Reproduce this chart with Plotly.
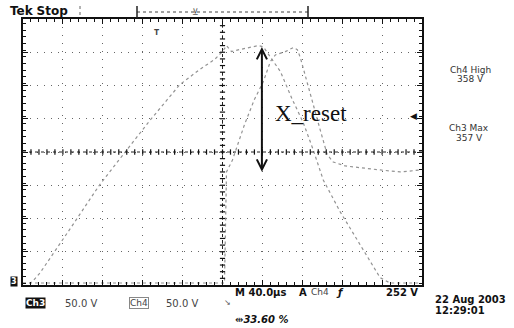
import plotly.graph_objects as go

# ---- data (time in microseconds, volts) ----
ch3_t = [0, 7, 10, 17, 47, 77, 104, 127, 157, 177, 192, 200, 204, 209, 217, 227, 236, 241,
         250, 258, 270, 281, 291, 301, 318, 335, 348, 358, 368, 399]
ch3_v = [0, 0, 3, 15, 81, 148, 200, 244, 298, 321, 336, 348, 357, 348, 351, 354, 357, 355,
         336, 318, 276, 241, 200, 155, 107, 65, 32, 8, 0, 0]
ch4_t = [0, 202, 204, 210, 222, 232, 241, 248, 253, 263, 271, 275, 278, 288, 298, 305, 311,
         323, 338, 358, 378, 399]
ch4_v = [0, 0, 167, 185, 238, 276, 303, 333, 343, 348, 354, 351, 339, 283, 230, 193, 182,
         176, 173, 170, 167, 170]
arrow_t = 239.5
arrow_v = [355, 165]
trig_level = 252
trig_pos = 134

W, H = 514, 328
L, R, T, B = 23, 422, 19, 285
X0, X1 = 0, 400
Y0, Y1 = -3, 397


def px(x):
    return (x - L) / (R - L)


def py(y):
    return (B - y) / (B - T)


fig = go.Figure()
trace_style = dict(color="#939393", width=1.2, dash="dot")
fig.add_trace(go.Scatter(x=ch3_t, y=ch3_v, mode="lines", line=trace_style, hoverinfo="skip"))
fig.add_trace(go.Scatter(x=ch4_t, y=ch4_v, mode="lines", line=trace_style, hoverinfo="skip"))

shapes = []
# center graticule lines
xc = (X0 + X1) / 2
yc = Y0 + 200
shapes.append(dict(type="line", x0=X0, x1=X1, y0=yc, y1=yc, xref="x", yref="y",
                   line=dict(color="#222", width=1, dash="dot")))
shapes.append(dict(type="line", x0=xc, x1=xc, y0=Y0, y1=Y1, xref="x", yref="y",
                   line=dict(color="#222", width=1, dash="dot")))
# tick marks on center lines
for i in range(1, 50):
    t = X0 + i * 8
    shapes.append(dict(type="line", x0=t, x1=t, y0=yc - 4, y1=yc + 4, xref="x", yref="y",
                       line=dict(color="#111", width=1.2)))
for i in range(1, 40):
    v = Y0 + i * 10
    shapes.append(dict(type="line", x0=xc - 2.6, x1=xc + 2.6, y0=v, y1=v, xref="x", yref="y",
                       line=dict(color="#111", width=1.2)))
# record-position bracket at top
ytop = py(12)
shapes.append(dict(type="line", xref="paper", yref="paper", x0=px(137), x1=px(308), y0=ytop, y1=ytop,
                   line=dict(color="#444", width=1, dash="dot")))
for xx in (137, 308):
    shapes.append(dict(type="line", xref="paper", yref="paper", x0=px(xx), x1=px(xx), y0=py(6), y1=py(18),
                       line=dict(color="#222", width=1.5)))
shapes.append(dict(type="line", xref="paper", yref="paper", x0=px(80), x1=px(80), y0=py(6), y1=py(17),
                   line=dict(color="#666", width=1, dash="dot")))

fig.update_layout(shapes=shapes)

ann = []
# double arrow
ann.append(dict(x=arrow_t, y=arrow_v[0], ax=arrow_t, ay=arrow_v[1], xref="x", yref="y",
                axref="x", ayref="y", text="", showarrow=True, arrowhead=5, startarrowhead=5,
                arrowside="end+start", arrowwidth=2, arrowsize=1, arrowcolor="#111"))
ann.append(dict(x=px(273), y=py(114), xref="paper", yref="paper", text="X_reset", showarrow=False,
                xanchor="left", yanchor="middle",
                font=dict(family="Liberation Serif", size=23, color="#111")))
# trigger level marker
ann.append(dict(x=X1, y=trig_level, xref="x", yref="y", text="◀", showarrow=False,
                xanchor="right", yanchor="middle", xshift=-3, font=dict(size=9, color="#111")))
# trigger position marker
ann.append(dict(x=trig_pos, y=Y1, xref="x", yref="y", text="<b>T</b>", showarrow=False,
                xanchor="center", yanchor="top", yshift=-4, font=dict(size=9, color="#444")))
# ground marker
ann.append(dict(x=px(14), y=py(281), xref="paper", yref="paper", text="<b>3</b>", showarrow=False,
                bgcolor="#111", font=dict(size=8, color="white", family="DejaVu Sans"),
                borderpad=0, xanchor="center", yanchor="middle"))
sans = "DejaVu Sans"


def txt(x, y, s, size=10, color="#222", xanchor="center", **kw):
    d = dict(x=px(x), y=py(y), xref="paper", yref="paper", text=s, showarrow=False,
             xanchor=xanchor, yanchor="middle", font=dict(family=sans, size=size, color=color))
    d.update(kw)
    ann.append(d)


txt(8, 11, "<b>Tek</b> <b>Stop</b>", size=12, color="#111", xanchor="left")
txt(195, 12, "⊻", size=9, color="#555")
txt(470, 70, "Ch4 High", size=9, color="#333")
txt(470, 79, "358 V", size=9, color="#333")
txt(469, 128, "Ch3 Max", size=9, color="#333")
txt(469, 138, "357 V", size=9, color="#333")
txt(35, 303, "<b>Ch3</b>", size=9, color="white", bgcolor="#111", borderpad=0)
txt(81, 303, "50.0 V", size=10, color="#444")
txt(139, 303, "Ch4", size=9, color="#444", bordercolor="#888", borderwidth=1, borderpad=0)
txt(182, 303, "50.0 V", size=10, color="#444")
txt(227, 302, "↘", size=8, color="#555")
txt(233, 292, "<b>M 40.0µs</b>", size=10, color="#111", xanchor="left")
txt(303, 292, "<b>A</b>", size=10, color="#111")
txt(320, 292, "Ch4", size=9, color="#444")
txt(340, 292, "<b><i>ƒ</i></b>", size=10, color="#111")
txt(402, 292, "<b>252 V</b>", size=10, color="#111")
txt(433, 299, "<b>22 Aug 2003</b>", size=10, color="#111", xanchor="left")
txt(433, 310, "<b>12:29:01</b>", size=10, color="#111", xanchor="left")
txt(233, 319, "⇹<b><i>33.60 %</i></b>", size=10, color="#111", xanchor="left")

fig.update_layout(annotations=ann)

axis_common = dict(showticklabels=False, showline=True, linecolor="#111", linewidth=2,
                   mirror="allticks", ticks="inside", ticklen=5, tickcolor="#111", tickwidth=1,
                   showgrid=True, gridcolor="#666", gridwidth=1, zeroline=False, fixedrange=True)
fig.update_xaxes(range=[X0, X1], tick0=X0, dtick=40, griddash="1px,7px",
                 minor=dict(ticks="inside", ticklen=3, dtick=8, tickcolor="#111", showgrid=False),
                 **axis_common)
fig.update_yaxes(range=[Y0, Y1], tick0=Y0, dtick=50, griddash="1px,6px",
                 minor=dict(ticks="inside", ticklen=3, dtick=10, tickcolor="#111", showgrid=False),
                 **axis_common)

fig.update_layout(width=W, height=H, margin=dict(l=L, r=W - R, t=T, b=H - B),
                  paper_bgcolor="white", plot_bgcolor="white", showlegend=False)

fig.write_html("out.html")
